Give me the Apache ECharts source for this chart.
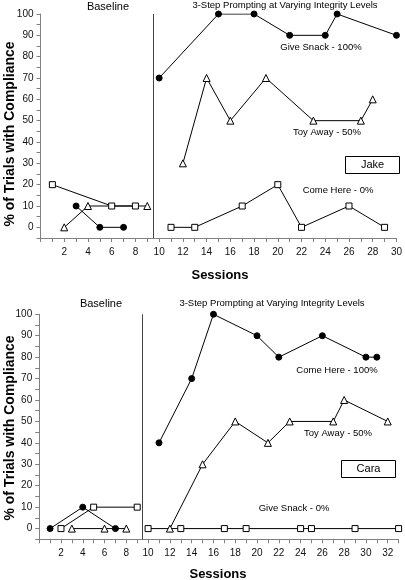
<!DOCTYPE html>
<html>
<head>
<meta charset="utf-8">
<script src="https://cdn.jsdelivr.net/npm/echarts@6/dist/echarts.min.js"></script>
<style>html,body{margin:0;padding:0;background:#fff}#c{width:405px;height:580px}</style>
</head>
<body>
<div id="c"></div>
<script>
// ---------- DATA ----------
// Jake (top panel)
const jakeSnackBase   = [[3,10],[5,0],[7,0]];
const jakeSnackTreat  = [[10,70],[15,100],[18,100],[21,90],[24,90],[25,100],[30,90]];
const jakeToyBase     = [[2,0],[4,10],[9,10]];
const jakeToyTreat    = [[12,30],[14,70],[16,50],[19,70],[23,50],[27,50],[28,60]];
const jakeComeBase    = [[1,20],[6,10],[8,10]];
const jakeComeTreat   = [[11,0],[13,0],[17,10],[20,20],[22,0],[26,10],[29,0]];
// Cara (bottom panel)
const caraComeBase    = [[1,0],[4,10],[7,0]];
const caraComeTreat   = [[11,40],[14,70],[16,100],[20,90],[22,80],[26,90],[30,80],[31,80]];
const caraToyBase     = [[3,0],[6,0],[8,0]];
const caraToyTreat    = [[12,0],[15,30],[18,50],[21,40],[23,50],[27,50],[28,60],[32,50]];
const caraSnackBase   = [[2,0],[5,10],[9,10]];
const caraSnackTreat  = [[10,0],[13,0],[17,0],[19,0],[24,0],[25,0],[29,0],[33,0]];
const phaseChange = 9.5;
const xMaxTop = 30, xMaxBottom = 33;
const yMin = -5, yMax = 100;

// ---------- CHART ----------
const FONT = '"Liberation Sans", Arial, sans-serif';
const chart = echarts.init(document.getElementById('c'), null, {renderer:'canvas'});

function xAxisCfg(gi, max){
  return {
    type:'value', gridIndex:gi, min:0, max:max, interval:2,
    axisLine:{show:true, onZero:false, lineStyle:{color:'#808080', width:1}},
    axisTick:{show:true, length:4, lineStyle:{color:'#808080'}},
    minorTick:{show:true, splitNumber:2, length:4, lineStyle:{color:'#808080'}},
    splitLine:{show:false},
    axisLabel:{color:'#111', fontFamily:FONT, fontSize:10, margin:9,
      formatter:v=> v===0 ? '' : String(v)}
  };
}
function yAxisCfg(gi){
  return {
    type:'value', gridIndex:gi, min:yMin, max:yMax, interval:5,
    axisLine:{show:true, lineStyle:{color:'#808080', width:1}},
    axisTick:{show:true, length:4, lineStyle:{color:'#808080'}},
    splitLine:{show:false},
    axisLabel:{color:'#111', fontFamily:FONT, fontSize:10, margin:7,
      formatter:v=> (v>=0 && v%10===0) ? String(v) : ''}
  };
}
const sym = {
  circle:{symbol:'circle', symbolSize:6, itemStyle:{color:'#000', borderColor:'#000', borderWidth:1}},
  square:{symbol:'rect', symbolSize:6, itemStyle:{color:'#fff', borderColor:'#000', borderWidth:1}},
  tri:{symbol:'triangle', symbolSize:7, itemStyle:{color:'#fff', borderColor:'#000', borderWidth:1}}
};
function line(gi, data, s, z){
  return Object.assign({
    type:'line', xAxisIndex:gi, yAxisIndex:gi, data:data, animation:false,
    lineStyle:{color:'#000', width:1}, z:z||2, showSymbol:true, silent:true
  }, sym[s]);
}
function phase(gi){
  return {
    type:'line', xAxisIndex:gi, yAxisIndex:gi, data:[], silent:true, animation:false,
    markLine:{symbol:'none', silent:true, animation:false, label:{show:false},
      lineStyle:{color:'#444', width:1, type:'solid'},
      data:[[{coord:[phaseChange, yMax]},{coord:[phaseChange, yMin]}]]}
  };
}
function txt(x,y,t,size,bold,extra){
  return Object.assign({type:'text', x:x, y:y, silent:true, style:{text:t, fill:'#000',
    font:(bold?'bold ':'')+size+'px '+FONT, textAlign:'center', textVerticalAlign:'middle'}}, extra||{});
}

chart.setOption({
  animation:false,
  grid:[
    {left:40.5, top:14, width:357.6, height:224},
    {left:39.2, top:314.3, width:359.4, height:225}
  ],
  xAxis:[xAxisCfg(0,xMaxTop), xAxisCfg(1,xMaxBottom)],
  yAxis:[yAxisCfg(0), yAxisCfg(1)],
  series:[
    phase(0), phase(1),
    line(0, jakeSnackBase,'circle',3), line(0, jakeSnackTreat,'circle',3),
    line(0, jakeToyBase,'tri'), line(0, jakeToyTreat,'tri'),
    line(0, jakeComeBase,'square',4), line(0, jakeComeTreat,'square'),
    line(1, caraComeBase,'circle',3), line(1, caraComeTreat,'circle',3),
    line(1, caraToyBase,'tri'), line(1, caraToyTreat,'tri'),
    line(1, caraSnackBase,'square',4), line(1, caraSnackTreat,'square')
  ],
  graphic:[
    txt(108, 7, 'Baseline', 11),
    txt(285, 5, '3-Step Prompting at Varying Integrity Levels', 9.5),
    txt(321, 47, 'Give Snack - 100%', 9.5),
    txt(327, 132, 'Toy Away - 50%', 9.5),
    txt(338, 190, 'Come Here - 0%', 9.5),
    {type:'rect', shape:{x:345.5, y:156.5, width:54, height:17}, style:{fill:'#fff', stroke:'#000', lineWidth:1}, silent:true},
    txt(372.5, 165, 'Jake', 11),
    txt(220, 275, 'Sessions', 13, true),
    txt(10, 134, '% of Trials with Compliance', 14, true, {rotation:Math.PI/2}),

    txt(101, 304, 'Baseline', 11),
    txt(272, 303, '3-Step Prompting at Varying Integrity Levels', 9.5),
    txt(337, 370, 'Come Here - 100%', 9.5),
    txt(338, 433, 'Toy Away - 50%', 9.5),
    {type:'rect', shape:{x:341.5, y:460.5, width:54, height:17}, style:{fill:'#fff', stroke:'#000', lineWidth:1}, silent:true},
    txt(368.5, 469, 'Cara', 11),
    txt(294, 508, 'Give Snack - 0%', 9.5),
    txt(218, 574, 'Sessions', 13, true),
    txt(10, 428, '% of Trials with Compliance', 14, true, {rotation:Math.PI/2})
  ]
});
</script>
</body>
</html>
